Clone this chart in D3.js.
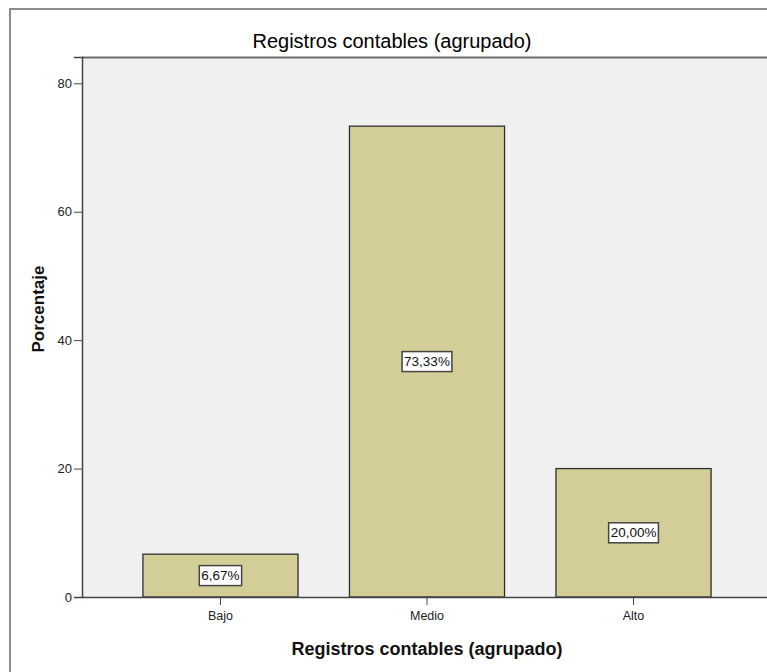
<!DOCTYPE html>
<html><head><meta charset="utf-8">
<script src="https://cdn.jsdelivr.net/npm/d3@7"></script>
<style>body{margin:0;background:#fff;font-family:"Liberation Sans",Arial,sans-serif}</style>
</head><body>
<svg id="c" width="767" height="672"></svg>
<script>
const categories = ["Bajo","Medio","Alto"];
const values = [6.67, 73.33, 20.00];
const valueLabels = ["6,67%","73,33%","20,00%"];
const yTicks = [0,20,40,60,80];
const title = "Registros contables (agrupado)";
const xTitle = "Registros contables (agrupado)";
const yTitle = "Porcentaje";

const svg = d3.select("#c");
const plot = {left:82, top:57, right:772, bottom:597};

// outer frame
svg.append("rect").attr("x",10).attr("y",9).attr("width",800).attr("height",700)
  .attr("fill","#fff").attr("stroke","#8c8c8c").attr("stroke-width",2);

const y = d3.scaleLinear().domain([0,84.1]).range([plot.bottom,plot.top]);
const x = d3.scaleBand().domain(categories).range([plot.left,plot.right])
  .paddingInner(0.249).paddingOuter(0.295);

svg.append("rect").attr("x",plot.left).attr("y",plot.top)
  .attr("width",plot.right-plot.left).attr("height",plot.bottom-plot.top)
  .attr("fill","#f0f0f0");
svg.append("line").attr("x1",plot.left).attr("x2",plot.right).attr("y1",plot.top+0.5).attr("y2",plot.top+0.5)
  .attr("stroke","#6e6e6e").attr("stroke-width",2);

svg.append("text").attr("x",392).attr("y",48).attr("text-anchor","middle")
  .attr("font-size",20).attr("fill","#000").text(title);

// bars
svg.selectAll("rect.bar").data(values).enter().append("rect").attr("class","bar")
  .attr("x",(d,i)=>x(categories[i])).attr("y",d=>y(d))
  .attr("width",x.bandwidth()).attr("height",d=>y(0)-y(d))
  .attr("fill","#d3ce97").attr("stroke","#2e2e2e").attr("stroke-width",1.3);

// axes
const ya = d3.axisLeft(y).tickValues(yTicks).tickSize(8).tickPadding(2).tickFormat(d3.format("d"));
const yg = svg.append("g").attr("transform",`translate(${plot.left},0)`).call(ya);
yg.select(".domain").attr("stroke","#444").attr("stroke-width",1.5);
yg.selectAll(".tick line").attr("stroke","#444");
yg.selectAll("text").attr("font-size",13).attr("fill","#222").attr("font-family","Liberation Sans, Arial");

const xa = d3.axisBottom(x).tickSize(8).tickPadding(6).tickSizeOuter(0);
const xg = svg.append("g").attr("transform",`translate(0,${plot.bottom})`).call(xa);
xg.select(".domain").attr("stroke","#444").attr("stroke-width",1.5);
xg.selectAll(".tick line").attr("stroke","#444");
xg.selectAll("text").attr("font-size",12.5).attr("fill","#222").attr("font-family","Liberation Sans, Arial");

// value labels
values.forEach((v,i)=>{
  const cx = x(categories[i]) + x.bandwidth()/2;
  const cy = (y(v)+y(0))/2;
  const g = svg.append("g");
  const t = g.append("text").attr("x",cx).attr("y",cy).attr("text-anchor","middle")
    .attr("dominant-baseline","central").attr("font-size",13.5).attr("fill","#111").text(valueLabels[i]);
  const bb = t.node().getBBox();
  g.insert("rect","text").attr("x",bb.x-2).attr("y",cy-10).attr("width",bb.width+4).attr("height",20)
    .attr("fill","#fff").attr("stroke","#444").attr("stroke-width",1.5);
});

svg.append("text").attr("x",427).attr("y",655).attr("text-anchor","middle")
  .attr("font-size",18).attr("font-weight","bold").attr("fill","#111").text(xTitle);
svg.append("text").attr("transform","translate(44,309) rotate(-90)").attr("text-anchor","middle")
  .attr("font-size",17).attr("font-weight","bold").attr("fill","#111").text(yTitle);
</script>
</body></html>
